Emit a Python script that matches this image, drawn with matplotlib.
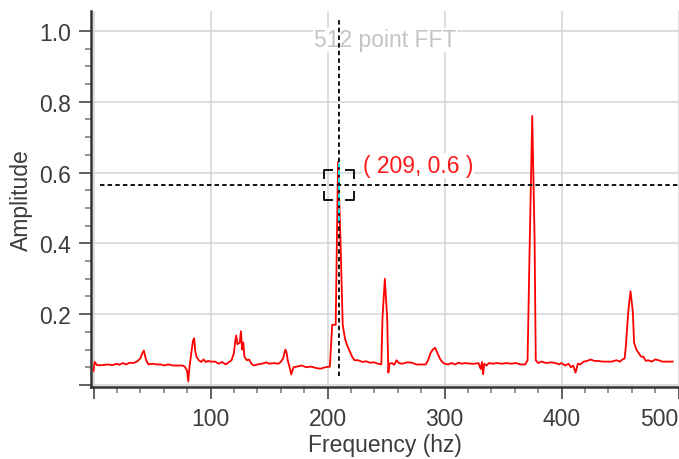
import matplotlib
matplotlib.use("Agg")
import matplotlib.pyplot as plt
from matplotlib.path import Path

# spectrum (Hz, amplitude)
freq = [0, 1, 3, 8, 12, 16, 20, 22, 25, 28, 31, 34, 37, 40, 42, 43, 45, 47, 50, 54,
        58, 60, 64, 68, 72, 76, 78, 80, 81, 82, 84, 85, 86, 87, 88, 90, 92, 94, 96, 98,
        100, 104, 107, 110, 113, 116, 118, 120, 121, 122, 123, 125, 126, 127, 128, 129,
        131, 133, 135, 137, 140, 144, 148, 150, 154, 158, 160, 162, 164, 165, 166, 168,
        169, 171, 174, 178, 182, 186, 190, 194, 198, 202, 204, 207, 209, 211, 213, 215,
        217, 219, 221, 223, 226, 230, 233, 236, 240, 243, 246, 247, 249, 251, 252, 253,
        255, 257, 259, 261, 264, 268, 272, 276, 280, 284, 286, 288, 290, 292, 294, 296,
        298, 300, 303, 306, 309, 312, 315, 318, 322, 326, 329, 331, 332, 333, 334, 336,
        338, 341, 345, 349, 353, 357, 361, 365, 369, 371, 373, 375, 377, 378, 380, 383,
        387, 391, 395, 398, 400, 403, 406, 408, 410, 412, 414, 416, 419, 422, 425, 428,
        431, 435, 439, 443, 447, 450, 452, 454, 455, 457, 459, 461, 462, 464, 466, 468,
        470, 472, 474, 477, 480, 483, 486, 490, 495]
amp = [0.04, 0.065, 0.056, 0.056, 0.058, 0.056, 0.06, 0.057, 0.062, 0.058, 0.063, 0.062,
       0.066, 0.075, 0.092, 0.097, 0.07, 0.058, 0.06, 0.058, 0.058, 0.055, 0.058, 0.055,
       0.055, 0.055, 0.052, 0.04, 0.01, 0.05, 0.1, 0.125, 0.132, 0.095, 0.08, 0.07, 0.065,
       0.072, 0.065, 0.068, 0.066, 0.066, 0.06, 0.065, 0.058, 0.065, 0.07, 0.09, 0.12,
       0.14, 0.115, 0.12, 0.152, 0.1, 0.12, 0.08, 0.07, 0.072, 0.06, 0.055, 0.058, 0.06,
       0.064, 0.06, 0.062, 0.06, 0.065, 0.075, 0.1, 0.092, 0.07, 0.045, 0.03, 0.05, 0.052,
       0.055, 0.05, 0.052, 0.048, 0.046, 0.05, 0.052, 0.17, 0.17, 0.63, 0.42, 0.17, 0.13,
       0.11, 0.095, 0.08, 0.07, 0.07, 0.065, 0.067, 0.063, 0.064, 0.06, 0.058, 0.19, 0.30,
       0.19, 0.035, 0.06, 0.062, 0.057, 0.07, 0.062, 0.06, 0.064, 0.063, 0.058, 0.058,
       0.058, 0.07, 0.09, 0.1, 0.105, 0.09, 0.075, 0.065, 0.06, 0.058, 0.062, 0.058, 0.063,
       0.06, 0.062, 0.06, 0.06, 0.062, 0.045, 0.065, 0.03, 0.06, 0.055, 0.062, 0.06, 0.062,
       0.06, 0.062, 0.06, 0.062, 0.058, 0.058, 0.07, 0.43, 0.76, 0.41, 0.07, 0.062, 0.066,
       0.062, 0.064, 0.062, 0.058, 0.062, 0.055, 0.06, 0.05, 0.055, 0.035, 0.06, 0.058,
       0.066, 0.068, 0.072, 0.068, 0.068, 0.066, 0.066, 0.066, 0.07, 0.066, 0.072, 0.075,
       0.11, 0.205, 0.265, 0.205, 0.12, 0.1, 0.09, 0.08, 0.08, 0.068, 0.07, 0.066, 0.072,
       0.07, 0.066, 0.066, 0.066]

cursor_x = 209
cursor_y = 0.565
cursor_label = "( 209, 0.6 )"
peak_top = 0.63
peak_mid = 0.455

xticks = [0, 100, 200, 300, 400, 500]
xticklabels = ["", "100", "200", "300", "400", "500"]
yticks = [0, 0.2, 0.4, 0.6, 0.8, 1.0]
yticklabels = ["", "0.2", "0.4", "0.6", "0.8", "1.0"]

plt.rcParams['font.family'] = ['Liberation Sans', 'DejaVu Sans']
plt.rcParams['lines.scale_dashes'] = False

fig = plt.figure(figsize=(6.79, 4.60), dpi=100)
ax = fig.add_axes([91/679, 72/460, 587.5/679, 376/460])

txt = "#3c3c3c"
ax.plot(freq, amp, color="#ff0000", linewidth=1.3, zorder=3)

# crosshair
dash = (0, (3.2, 2.3))
ax.plot([5.6, 500], [cursor_y, cursor_y], color="black", linewidth=1.3,
        linestyle=dash, zorder=4, clip_on=False)
ax.plot([cursor_x + 0.8, cursor_x + 0.8], [0.025, 1.04], color="black",
        linewidth=1.3, linestyle=dash, zorder=4, clip_on=False)
ax.plot([cursor_x + 0.8, cursor_x + 0.8], [peak_mid, peak_top], color="cyan",
        linewidth=1.3, linestyle=(3.2, (3.2, 2.3)), zorder=5)

# corner bracket marker around the cursor
a = 0.4
verts = [(-a, 1), (-1, 1), (-1, a), (a, 1), (1, 1), (1, a),
         (-1, -a), (-1, -1), (-a, -1), (1, -a), (1, -1), (a, -1)]
codes = [Path.MOVETO, Path.LINETO, Path.LINETO] * 4
bracket = Path(verts, codes)
ax.plot([cursor_x + 0.8], [cursor_y], marker=bracket, markersize=21,
        markerfacecolor="none", markeredgecolor="black", markeredgewidth=1.3,
        linestyle="none", zorder=6)

ax.annotate(cursor_label, xy=(cursor_x, cursor_y), xytext=(18, 14),
            textcoords="offset points", ha="left", va="center", color="#ff1a1a",
            fontsize=16.5, zorder=7,
            bbox=dict(facecolor="white", edgecolor="none", pad=0.5))

ax.text(0.5, 0.923, "512 point FFT", transform=ax.transAxes, ha="center",
        va="center", color="#c4c4c4", fontsize=16.5, zorder=2,
        bbox=dict(facecolor="white", edgecolor="none", pad=0.5))

ax.set_xlim(-2.14, 500)
ax.set_ylim(-0.0057, 1.0565)

ax.set_xticks(xticks)
ax.set_xticklabels(xticklabels)
ax.set_yticks(yticks)
ax.set_yticklabels(yticklabels)
ax.set_xticks(range(20, 500, 20), minor=True)
ax.set_yticks([0.05, 0.1, 0.15, 0.25, 0.3, 0.35, 0.45, 0.5, 0.55,
               0.65, 0.7, 0.75, 0.85, 0.9, 0.95], minor=True)
ax.tick_params(which="major", length=8.5, width=1.3, color="#555555",
               labelsize=16.5, labelcolor=txt, pad=6)
ax.tick_params(which="minor", length=4.5, width=1.1, color="#777777")
# last label sits inside the figure edge, as in the original
ax.get_xticklabels()[-1].set_horizontalalignment("right")

ax.grid(True, which="major", color="#d4d4d4", linewidth=1.1, zorder=0)
ax.set_axisbelow(True)

for s in ["top", "right"]:
    ax.spines[s].set_visible(False)
for s in ["left", "bottom"]:
    ax.spines[s].set_color("#333333")
    ax.spines[s].set_linewidth(1.8)

ax.set_xlabel("Frequency (hz)", fontsize=16.5, color=txt, labelpad=2)
ax.set_ylabel("Amplitude", fontsize=16.5, color=txt, labelpad=4)

fig.savefig("out.png", dpi=100)
